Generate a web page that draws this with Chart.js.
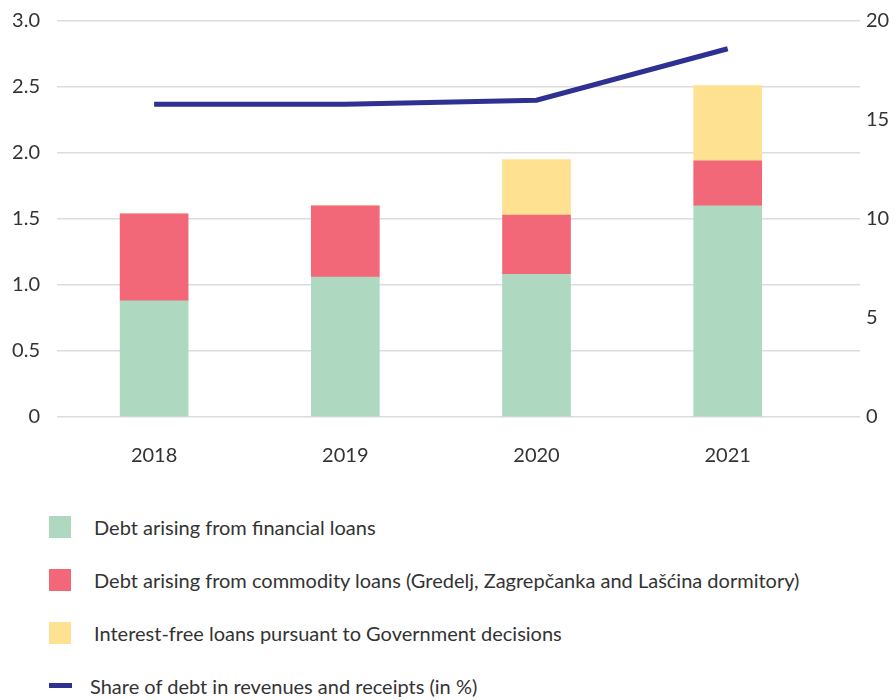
<!DOCTYPE html>
<html>
<head>
<meta charset="utf-8">
<script src="https://cdn.jsdelivr.net/npm/chart.js@4"></script>
<style>
  body { margin: 0; background: #fff; font-family: Lato, sans-serif; color: #333; }
  #wrap { position: relative; width: 896px; height: 495px; margin-top: -8px; }
  #legend { list-style: none; margin: 0; padding: 0; position: absolute; left: 49px; top: 500px; }
  #legend li { display: flex; align-items: center; height: 53px; font-size: 20px; }
  #legend .box { width: 22px; height: 22px; margin-right: 23px; }
  #legend .dash { width: 23px; height: 5px; margin-right: 18px; }
</style>
</head>
<body>
<div id="wrap"><canvas id="myChart"></canvas></div>
<ul id="legend"></ul>
<script>
const years = ['2018', '2019', '2020', '2021'];
const financialLoans = [0.88, 1.06, 1.08, 1.60];
const commodityLoans = [0.66, 0.54, 0.45, 0.34];
const interestFree = [0, 0, 0.42, 0.57];
const debtShare = [15.8, 15.8, 16.0, 18.6];

const labels = [
  'Debt arising from financial loans',
  'Debt arising from commodity loans (Gredelj, Zagrepčanka and Lašćina dormitory)',
  'Interest-free loans pursuant to Government decisions',
  'Share of debt in revenues and receipts (in %)'
];
const colors = ['#aed9c0', '#f26878', '#fee291', '#2e3192'];

Chart.defaults.font.family = 'Lato, sans-serif';
Chart.defaults.font.size = 20;
Chart.defaults.color = '#333';

const ctx = document.getElementById('myChart').getContext('2d');
new Chart(ctx, {
  type: 'bar',
  data: {
    labels: years,
    datasets: [
      { type: 'line', label: labels[3], data: debtShare, yAxisID: 'y2', borderColor: colors[3],
        borderWidth: 5, pointRadius: 0, tension: 0, order: 0 },
      { label: labels[0], data: financialLoans, backgroundColor: colors[0], barThickness: 68, order: 1 },
      { label: labels[1], data: commodityLoans, backgroundColor: colors[1], barThickness: 68, order: 2 },
      { label: labels[2], data: interestFree, backgroundColor: colors[2], barThickness: 68, order: 3 }
    ]
  },
  options: {
    responsive: true,
    maintainAspectRatio: false,
    animation: false,
    layout: { padding: { top: 3, bottom: 0 } },
    plugins: { legend: { display: false }, tooltip: { enabled: false } },
    scales: {
      x: {
        stacked: true,
        grid: { display: false },
        border: { display: false },
        ticks: { padding: 19 },
        // leave some empty room on the right, like the original
        afterBuildTicks: (scale) => { scale._valueRange = 4.2; scale._startValue = -0.508; }
      },
      y: {
        stacked: true,
        min: 0,
        max: 3,
        ticks: { stepSize: 0.5, padding: 17, callback: v => v === 0 ? '0' : v.toFixed(1) },
        grid: { color: '#dcdcdc', lineWidth: 1.5, drawTicks: false },
        border: { display: false },
        afterFit: (scale) => { scale.width = 57; }
      },
      y2: {
        position: 'right',
        min: 0,
        max: 20,
        ticks: { stepSize: 5, padding: 6 },
        grid: { display: false, drawTicks: false },
        border: { display: false },
        afterFit: (scale) => { scale.width = 36; }
      }
    }
  }
});

const legend = document.getElementById('legend');
labels.forEach((text, i) => {
  const li = document.createElement('li');
  const mark = document.createElement('span');
  mark.className = i === 3 ? 'dash' : 'box';
  mark.style.background = colors[i];
  li.appendChild(mark);
  li.appendChild(document.createTextNode(text));
  legend.appendChild(li);
});
</script>
</body>
</html>
